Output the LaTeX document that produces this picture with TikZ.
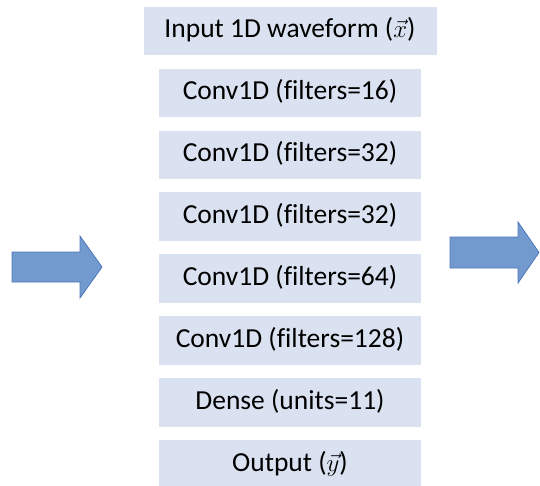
\documentclass[tikz,border=0pt]{standalone}
\usepackage{fontspec}
\setmainfont{Carlito}[Ligatures=NoCommon]
\usetikzlibrary{chains,positioning}
\definecolor{layerfill}{HTML}{DAE2F1}
\definecolor{arrowfill}{HTML}{729ACF}
\definecolor{arrowline}{HTML}{4F78BA}
\newcommand\layerstrut{\vrule height 0.75em depth 0.25em width 0pt}

\begin{document}
\begin{tikzpicture}[x=1pt,y=1pt,node distance=13pt,start chain=going below]
  \useasboundingbox (0,0) rectangle (540,-485);
  \begin{scope}[
    every node/.style={
      fill=layerfill,
      on chain,
      align=center,
      minimum width=262pt,
      minimum height=48.5pt,
      inner sep=0pt,
      font=\fontsize{27.5}{30}\selectfont,
    },
    ]
    \node[minimum width=293pt] (layer0) at (290,-31) {\layerstrut Input 1D waveform ($\vec{x}$)};
    \foreach[count=\i] \txt in
    {{Conv1D (filters=16)},{Conv1D (filters=32)},{Conv1D (filters=32)},
     {Conv1D (filters=64)},{Conv1D (filters=128)},{Dense (units=11)},
     {Output ($\vec{y}$)}}
    {
      \node (layer\i) {\layerstrut\txt};
    }
  \end{scope}
  % big block arrows on both sides
  \begin{scope}[fill=arrowfill,draw=arrowline,line width=0.8pt]
    \filldraw (12,-252) -- (80,-252) -- (80,-236) -- (102,-267)
      -- (80,-298) -- (80,-282) -- (12,-282) -- cycle;
    \filldraw (450,-237) -- (518,-237) -- (518,-222) -- (539,-252.5)
      -- (518,-283) -- (518,-268) -- (450,-268) -- cycle;
  \end{scope}
\end{tikzpicture}
\end{document}
